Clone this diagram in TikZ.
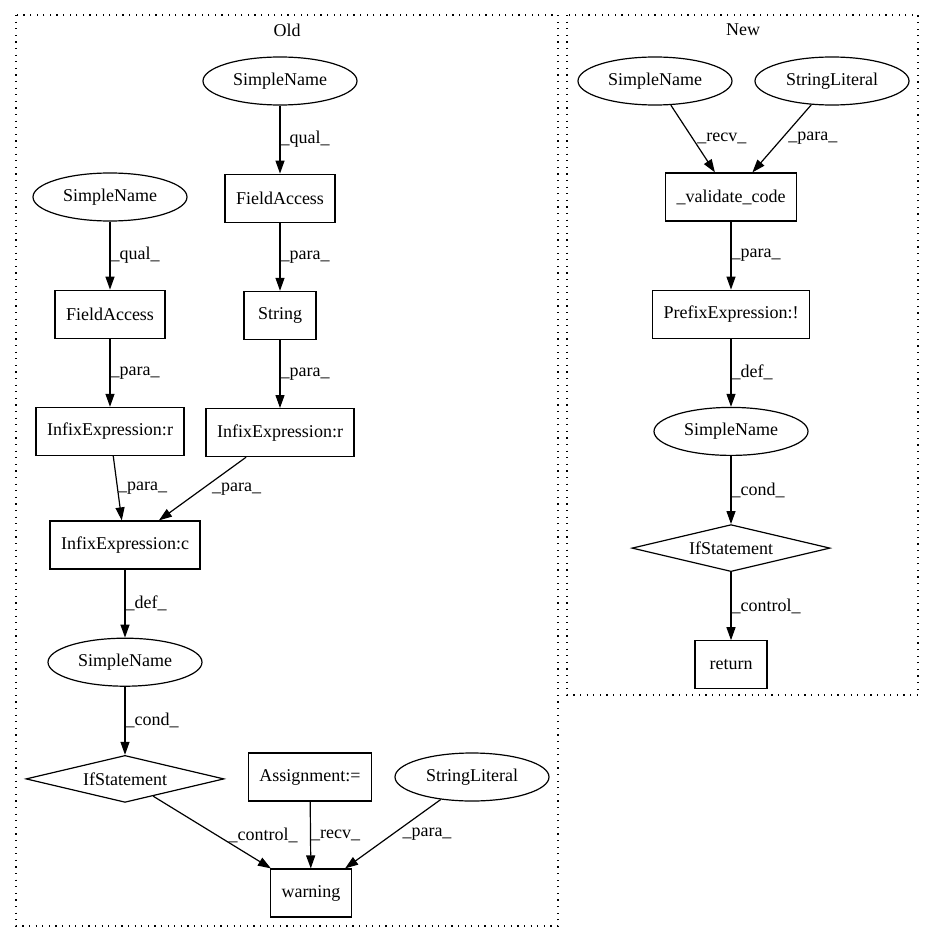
\documentclass[tikz,border=0pt]{standalone}
\usepackage{fontspec}
\setmainfont{Liberation Serif}
\usetikzlibrary{arrows.meta,positioning,shapes.geometric}
\newcommand{\gvfont}{\fontsize{18}{21}\selectfont}

\begin{document}
\begin{tikzpicture}[x=1pt, y=-1pt,
        box/.style={draw, line width=1.2pt, font=\gvfont, inner xsep=11pt,
                    minimum width=72pt, minimum height=48pt},
        oval/.style={draw, ellipse, line width=1.2pt, font=\gvfont,
                     inner sep=2pt, minimum width=154pt, minimum height=48pt},
        ifnode/.style={draw, diamond, aspect=4.2, line width=1.2pt, font=\gvfont,
                       inner sep=0pt, minimum width=198pt, minimum height=47pt},
        arr/.style={-{Triangle[length=13pt,width=9pt]}, line width=1.2pt},
        lab/.style={font=\gvfont, anchor=west, inner sep=0pt},
        clus/.style={draw, line width=1.2pt, dash pattern=on 1.2pt off 5.4pt}
      ]
        \useasboundingbox (0,0) rectangle (933,944);
        % clusters
        \draw[clus] (16,15) rectangle (558,926);
        \node[font=\gvfont] (oldlbl) at (287,30) {Old};
        \draw[clus] (567,15) rectangle (918,695);
        \node[font=\gvfont] (newlbl) at (743,30) {New};

        % Old
        \node[oval] (osn1) at (280,81) {SimpleName};
        \node[box] (ofa1) [below=68pt of osn1] {FieldAccess};
        \node[box] (ostr) [below=68pt of ofa1] {String};
        \node[box] (oinr2) [below=68pt of ostr] {InfixExpression:r};
        \node[oval] (osn2) at (110,197) {SimpleName};
        \node[box] (ofa2) [below=68pt of osn2] {FieldAccess};
        \node[box] (oinr1) [below=68pt of ofa2] {InfixExpression:r};
        \node[box] (oinc) at (125,545) {InfixExpression:c};
        \node[oval] (osn3) [below=68pt of oinc] {SimpleName};
        \node[ifnode] (oif) [below=68pt of osn3] {IfStatement};
        \node[box] (oasg) at (310,777) {Assignment:=};
        \node[oval] (olit) at (472,777) {StringLiteral};
        \node[box] (owarn) at (311,893) {warning};

        \draw[arr] (osn1) -- node[lab] {\_qual\_} (ofa1);
        \draw[arr] (ofa1) -- node[lab] {\_para\_} (ostr);
        \draw[arr] (ostr) -- node[lab] {\_para\_} (oinr2);
        \draw[arr] (osn2) -- node[lab] {\_qual\_} (ofa2);
        \draw[arr] (ofa2) -- node[lab] {\_para\_} (oinr1);
        \draw[arr] (oinr1) -- node[lab] {\_para\_} (oinc);
        \draw[arr] (oinr2) -- node[lab, xshift=9pt] {\_para\_} (oinc);
        \draw[arr] (oinc) -- node[lab] {\_def\_} (osn3);
        \draw[arr] (osn3) -- node[lab] {\_cond\_} (oif);
        \draw[arr] (oif) -- node[lab, xshift=16pt, yshift=-3pt] {\_control\_} (owarn);
        \draw[arr] (oasg) -- node[lab] {\_recv\_} (owarn);
        \draw[arr] (olit) -- node[lab, xshift=9pt] {\_para\_} (owarn);

        % New
        \node[oval] (nsn1) at (655,81) {SimpleName};
        \node[oval] (nlit) at (832,81) {StringLiteral};
        \node[box] (nval) at (731,197) {\_validate\_code};
        \node[box] (npre) [below=68pt of nval] {PrefixExpression:!};
        \node[oval] (nsn2) [below=68pt of npre] {SimpleName};
        \node[ifnode] (nif) [below=68pt of nsn2] {IfStatement};
        \node[box] (nret) [below=68pt of nif] {return};

        \draw[arr] (nsn1) -- node[lab, xshift=4pt] {\_recv\_} (nval);
        \draw[arr] (nlit) -- node[lab, xshift=6pt] {\_para\_} (nval);
        \draw[arr] (nval) -- node[lab] {\_para\_} (npre);
        \draw[arr] (npre) -- node[lab] {\_def\_} (nsn2);
        \draw[arr] (nsn2) -- node[lab] {\_cond\_} (nif);
        \draw[arr] (nif) -- node[lab] {\_control\_} (nret);
      \end{tikzpicture}
\end{document}
